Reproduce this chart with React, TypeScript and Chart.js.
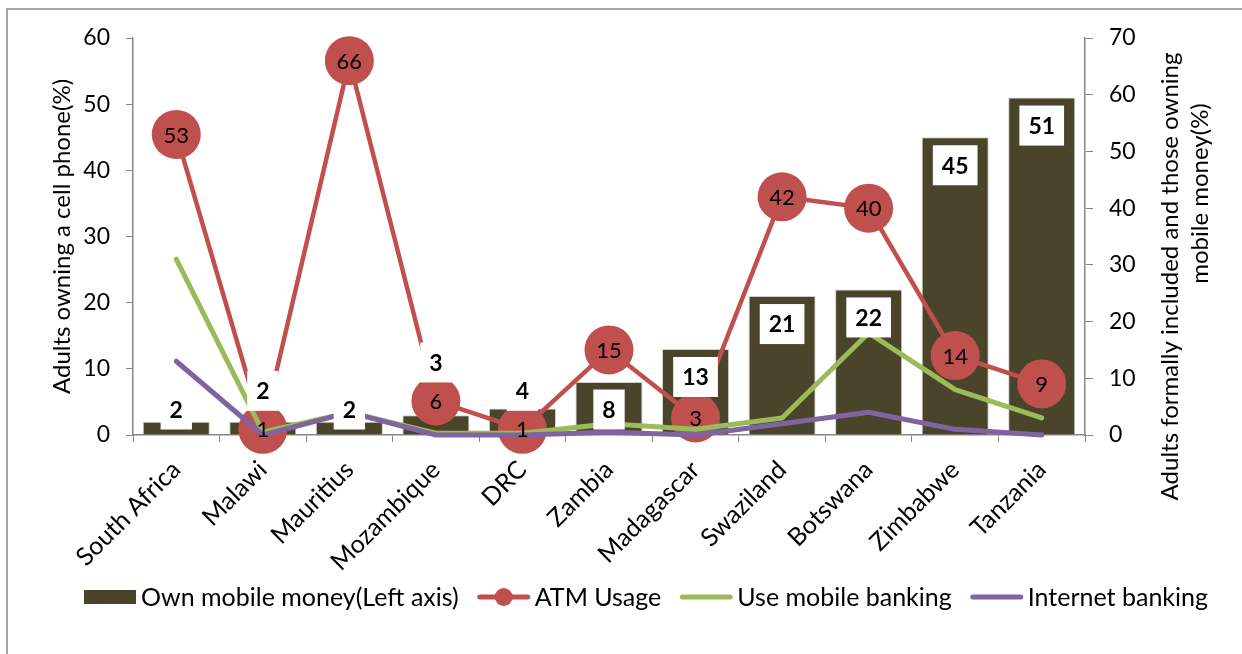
import React, { useEffect, useRef } from 'react';
import { Chart, registerables } from 'chart.js';

Chart.register(...registerables);

const countries = ['South Africa', 'Malawi', 'Mauritius', 'Mozambique', 'DRC', 'Zambia', 'Madagascar', 'Swaziland', 'Botswana', 'Zimbabwe', 'Tanzania'];
const ownMobileMoney = [2, 2, 2, 3, 4, 8, 13, 21, 22, 45, 51];
const atmUsage = [53, 1, 66, 6, 1, 15, 3, 42, 40, 14, 9];
const mobileBanking = [31, 0.5, 4, 0.3, 0.3, 2, 1, 3, 18, 8, 3];
const internetBanking = [13, 0, 4, 0, 0, 0.5, 0, 2, 4, 1, 0];

const seriesNames = ['Own mobile money(Left axis)', 'ATM Usage', 'Use mobile banking', 'Internet banking'];
const leftTitle = 'Adults owning a cell phone(%)';
const rightTitleLines = ['Adults formally included and those owning', 'mobile money(%)'];

const BAR = '#4A452A';
const RED = '#C0504D';
const GREEN = '#9BBB59';
const PURPLE = '#8064A2';
const AXIS = '#868686';
const FONT = 'Lato, "Open Sans", sans-serif';
const FS_NUM = 23;
const FS_TITLE = 24;
const FS_TXT = 25;

const overlay = {
  id: 'overlay',
  beforeDraw(chart: any) {
    const ctx = chart.ctx;
    ctx.save();
    ctx.fillStyle = '#fff';
    ctx.fillRect(0, 0, chart.width, chart.height);
    ctx.strokeStyle = '#a6a6a6';
    ctx.lineWidth = 2;
    ctx.strokeRect(7, 9, chart.width + 50, chart.height + 50);
    ctx.restore();
  },
  afterDatasetsDraw(chart: any) {
    const ctx = chart.ctx;
    const barMeta = chart.getDatasetMeta(0);
    const atmMeta = chart.getDatasetMeta(1);
    ctx.save();
    ctx.font = `${FS_NUM - 1}px ${FONT}`;
    ctx.fillStyle = '#000';
    ctx.textAlign = 'center';
    ctx.textBaseline = 'middle';
    atmMeta.data.forEach((p: any, i: number) => {
      ctx.fillText(String(atmUsage[i]), p.x, p.y + 1);
    });
    ctx.font = `bold ${FS_NUM}px ${FONT}`;
    barMeta.data.forEach((b: any, i: number) => {
      let y = Math.min(b.y + 28, b.base - 25);
      const cy = atmMeta.data[i].y;
      if (Math.abs(y - cy) < 24.5 + 20 - 6) y = cy - 24.5 - 14;
      const txt = String(ownMobileMoney[i]);
      const w = ctx.measureText(txt).width + 18;
      ctx.fillStyle = '#fff';
      ctx.fillRect(b.x - w / 2, y - 20, w, 40);
      ctx.fillStyle = '#000';
      ctx.fillText(txt, b.x, y + 1);
    });
    ctx.restore();
  },
  afterDraw(chart: any) {
    const ctx = chart.ctx;
    const a = chart.chartArea;
    const mid = (a.top + a.bottom) / 2;
    ctx.save();
    ctx.font = `${FS_TITLE}px ${FONT}`;
    ctx.fillStyle = '#000';
    ctx.textAlign = 'center';
    ctx.textBaseline = 'middle';
    const rot = (x: number, y: number, t: string) => {
      ctx.save();
      ctx.translate(x, y);
      ctx.rotate(-Math.PI / 2);
      ctx.fillText(t, 0, 0);
      ctx.restore();
    };
    rot(a.left - 71, mid, leftTitle);
    rot(a.right + 85, mid + 40, rightTitleLines[0]);
    rot(a.right + 115, mid - 43, rightTitleLines[1]);

    ctx.font = `${FS_TXT}px ${FONT}`;
    const kinds = ['bar', 'dot', 'line', 'line'];
    const colors = [BAR, RED, GREEN, PURPLE];
    const sw = 52, gt = 5, gi = 19;
    const widths = seriesNames.map((s) => ctx.measureText(s).width);
    const total = widths.reduce((s, w) => s + w + sw + gt, 0) + gi * (seriesNames.length - 1);
    let x = 646 - total / 2;
    const y = 597;
    ctx.textAlign = 'left';
    seriesNames.forEach((name, i) => {
      const c = colors[i];
      if (kinds[i] === 'bar') {
        ctx.fillStyle = c;
        ctx.fillRect(x, y - 7, sw, 14);
      } else {
        ctx.strokeStyle = c;
        ctx.lineWidth = 5;
        ctx.lineCap = 'round';
        ctx.beginPath();
        ctx.moveTo(x + 2, y);
        ctx.lineTo(x + sw - 2, y);
        ctx.stroke();
        if (kinds[i] === 'dot') {
          ctx.fillStyle = c;
          ctx.beginPath();
          ctx.arc(x + sw / 2, y, 9, 0, Math.PI * 2);
          ctx.fill();
        }
      }
      ctx.fillStyle = '#000';
      ctx.fillText(name, x + sw + gt, y + 1);
      x += sw + gt + widths[i] + gi;
    });
    ctx.restore();
  },
};

export default function App() {
  const ref = useRef<HTMLCanvasElement | null>(null);
  useEffect(() => {
    if (!ref.current) return;
    const numFont = { family: FONT, size: FS_NUM };
    const catFont = { family: FONT, size: FS_TXT };
    const chart = new Chart(ref.current, {
      type: 'bar',
      data: {
        labels: countries,
        datasets: [
          {
            type: 'bar',
            label: seriesNames[0],
            data: ownMobileMoney,
            backgroundColor: BAR,
            borderColor: '#d0cfc8',
            borderWidth: 1,
            yAxisID: 'y',
            order: 4,
            barPercentage: 0.775,
            categoryPercentage: 1,
          },
          {
            type: 'line',
            label: seriesNames[1],
            data: atmUsage,
            borderColor: RED,
            backgroundColor: RED,
            borderWidth: 4.5,
            pointRadius: 24.5,
            pointBorderWidth: 0,
            pointBackgroundColor: RED,
            yAxisID: 'y1',
            order: 3,
            clip: false,
            borderJoinStyle: 'round',
          },
          {
            type: 'line',
            label: seriesNames[2],
            data: mobileBanking,
            borderColor: GREEN,
            borderWidth: 5,
            pointRadius: 0,
            yAxisID: 'y1',
            order: 2,
            borderJoinStyle: 'round',
            borderCapStyle: 'round',
          },
          {
            type: 'line',
            label: seriesNames[3],
            data: internetBanking,
            borderColor: PURPLE,
            borderWidth: 5,
            pointRadius: 0,
            yAxisID: 'y1',
            order: 1,
            borderJoinStyle: 'round',
            borderCapStyle: 'round',
            clip: false,
          },
        ],
      } as any,
      options: {
        responsive: false,
        maintainAspectRatio: false,
        animation: false,
        devicePixelRatio: 1,
        layout: { padding: { top: 38, left: 0, right: 0, bottom: 0 } },
        plugins: { legend: { display: false }, tooltip: { enabled: false } },
        scales: {
          x: {
            type: 'category',
            offset: true,
            grid: { display: true, drawOnChartArea: false, offset: true, tickLength: 7, color: AXIS, lineWidth: 1 },
            border: { color: AXIS, width: 1.5 },
            ticks: { autoSkip: false, maxRotation: 45, minRotation: 45, font: catFont, color: '#000', padding: 13 },
            afterFit: (s: any) => { s.height = 219; },
          },
          y: {
            position: 'left',
            min: 0,
            max: 60,
            grid: { drawOnChartArea: false, tickLength: 7, color: AXIS },
            border: { color: AXIS, width: 1.5 },
            ticks: { stepSize: 10, font: numFont, color: '#000', padding: 16 },
            afterFit: (s: any) => { s.width = 133; },
          },
          y1: {
            position: 'right',
            min: 0,
            max: 70,
            grid: { drawOnChartArea: false, tickLength: 8, color: AXIS },
            border: { color: AXIS, width: 1.5 },
            ticks: { stepSize: 10, font: numFont, color: '#000', padding: 16 },
            afterFit: (s: any) => { s.width = 157; },
          },
        },
      } as any,
      plugins: [overlay],
    });
    return () => chart.destroy();
  }, []);
  return (
    <div style={{ position: 'fixed', left: 0, top: 0, width: 1242, height: 654, overflow: 'hidden', background: '#fff' }}>
      <canvas ref={ref} width={1242} height={654} style={{ display: 'block' }} />
    </div>
  );
}
